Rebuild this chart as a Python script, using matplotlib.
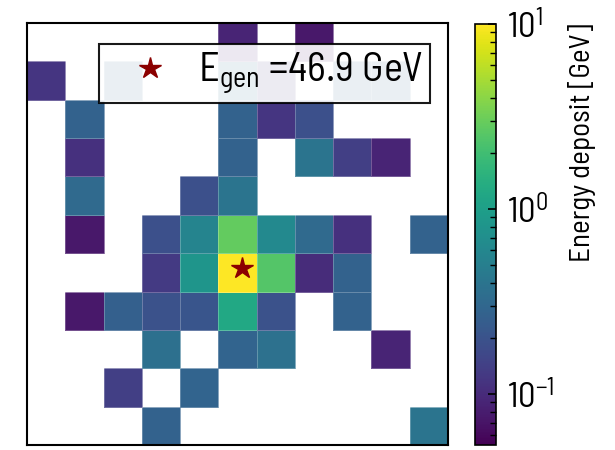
import numpy as np
import matplotlib
matplotlib.use('Agg')
import matplotlib.pyplot as plt
from matplotlib.colors import LogNorm
from matplotlib.lines import Line2D

plt.rcParams['font.family'] = ['Barlow Semi Condensed', 'DejaVu Sans']
plt.rcParams['mathtext.default'] = 'regular'

# energy per cell [GeV], row 0 = top row, columns left -> right; nan = empty
energy = np.array([
    [np.nan, np.nan, np.nan, np.nan, np.nan, 0.09, np.nan, 0.075, np.nan, np.nan, np.nan],
    [0.12, np.nan, 0.30, np.nan, np.nan, 0.35, 0.13, np.nan, 0.30, 0.30, np.nan],
    [np.nan, 0.27, np.nan, np.nan, np.nan, 0.27, 0.12, 0.19, np.nan, np.nan, np.nan],
    [np.nan, 0.11, np.nan, np.nan, np.nan, 0.27, np.nan, 0.40, 0.14, 0.09, np.nan],
    [np.nan, 0.32, np.nan, np.nan, 0.19, 0.40, np.nan, np.nan, np.nan, np.nan, np.nan],
    [np.nan, 0.075, np.nan, 0.19, 0.56, 2.85, 0.62, 0.32, 0.11, np.nan, 0.27],
    [np.nan, np.nan, np.nan, 0.13, 0.81, 10.0, 2.45, 0.10, 0.27, np.nan, np.nan],
    [np.nan, 0.075, 0.26, 0.20, 0.21, 1.23, 0.20, np.nan, 0.27, np.nan, np.nan],
    [np.nan, np.nan, np.nan, 0.36, np.nan, 0.28, 0.37, np.nan, np.nan, 0.09, np.nan],
    [np.nan, np.nan, 0.14, np.nan, 0.28, np.nan, np.nan, np.nan, np.nan, np.nan, np.nan],
    [np.nan, np.nan, np.nan, 0.27, np.nan, np.nan, np.nan, np.nan, np.nan, np.nan, 0.40],
])
e_gen = 46.9
gen_x, gen_y = 5.62, 4.61
vmin, vmax = 0.053, 10.0

fig = plt.figure(figsize=(6.15, 4.5), dpi=100)
ax = fig.add_axes([0.0439, 0.0111, 0.6846, 0.9378])
cax = fig.add_axes([0.7724, 0.0111, 0.0341, 0.9356])

ny, nx = energy.shape
xe = np.arange(nx + 1)
ye = np.arange(ny + 1)
mesh = ax.pcolormesh(xe, ye, energy[::-1], cmap='viridis',
                     norm=LogNorm(vmin=vmin, vmax=vmax),
                     edgecolors=(1, 1, 1, 0.25), linewidth=0.4)
ax.plot(gen_x, gen_y, marker='*', color='darkred', markersize=16, linestyle='none')
ax.set_xlim(0, nx)
ax.set_ylim(0, ny)
ax.set_xticks([])
ax.set_yticks([])
for s in ax.spines.values():
    s.set_linewidth(1.5)

handle = Line2D([0], [0], marker='*', color='darkred', markersize=16, linestyle='none')
leg = ax.legend([handle], [rf'E$_{{gen}}$ ={e_gen} GeV'], loc='upper right',
                bbox_to_anchor=(0.957, 0.95), fontsize=29, fancybox=False,
                edgecolor='black', framealpha=0.9, handletextpad=0.1,
                handlelength=2.2, borderpad=0.16, borderaxespad=0)
leg.get_frame().set_linewidth(1.5)

cb = fig.colorbar(mesh, cax=cax)
cb.outline.set_linewidth(1.2)
cax.tick_params(which='both', direction='in', labelsize=25, pad=8)
cax.tick_params(which='major', length=6, width=1.2)
cax.tick_params(which='minor', length=4, width=1)
cb.set_label('Energy deposit [GeV]', fontsize=21, labelpad=10, loc='top')

fig.savefig('out.png', dpi=100)
